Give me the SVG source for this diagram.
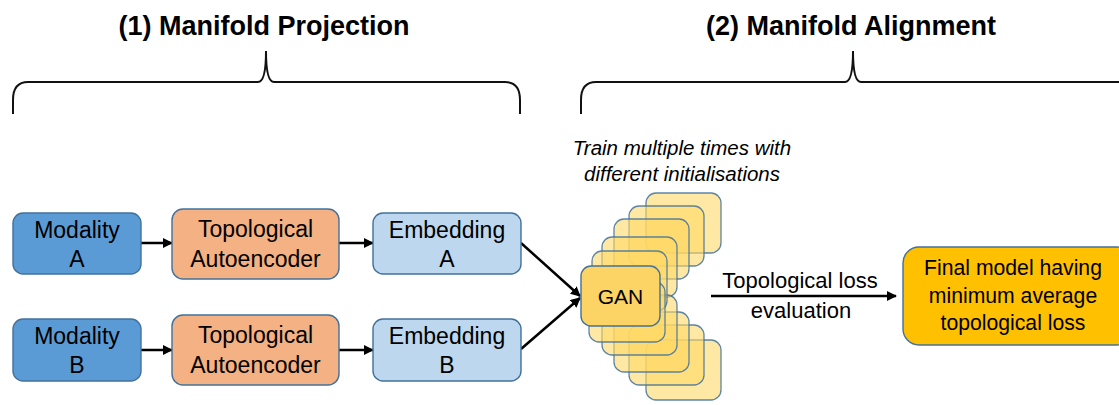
<svg xmlns="http://www.w3.org/2000/svg" width="1119" height="405" viewBox="0 0 1119 405">
<style>
text{font-family:"Liberation Sans",Arial,sans-serif;fill:#000;}
.title{font-size:27px;font-weight:bold;text-anchor:middle;}
.lbl{font-size:23px;text-anchor:middle;}
.box{stroke:#41719C;stroke-width:1.4;}
.mod{fill:#5B9BD5;}
.tae{fill:#F4B183;}
.emb{fill:#BDD7EE;}
.fin{fill:#FFC000;}
.stk{fill:#FFD966;fill-opacity:0.6;stroke:#41719C;stroke-opacity:0.85;stroke-width:1.3;}
.brace{fill:none;stroke:#111;stroke-width:2;}
.conn{stroke:#000;stroke-width:2.5;fill:none;marker-end:url(#ah);}
</style>
<defs>
<marker id="ah" viewBox="0 0 10 10" refX="9" refY="5" markerWidth="4" markerHeight="4" orient="auto" markerUnits="strokeWidth">
<path d="M0,0 L10,5 L0,10 z" fill="#000"/>
</marker>
</defs>
<rect width="1119" height="405" fill="#fff"/>

<g id="titles">
<text class="title" x="264" y="35">(1) Manifold Projection</text>
<text class="title" x="851" y="35">(2) Manifold Alignment</text>
</g>
<g id="braces">
<path class="brace" d="M13,114 L13,100 Q13,82 28,82 L258,82 Q266,82 266,51 Q266,82 274,82 L505,82 Q520,82 520,100 L520,114"/>
<path class="brace" d="M581,114 L581,100 Q581,82 596,82 L845,82 Q853,82 853,51 Q853,82 861,82 L1120,82"/>
</g>

<g id="connectors">
<line class="conn" x1="141" y1="243" x2="172" y2="243"/>
<line class="conn" x1="339" y1="243" x2="373" y2="243"/>
<line class="conn" x1="141" y1="350" x2="172" y2="350"/>
<line class="conn" x1="339" y1="350" x2="373" y2="350"/>
<line class="conn" x1="521" y1="243" x2="580" y2="296"/>
<line class="conn" x1="521" y1="349" x2="580" y2="298"/>
<line class="conn" x1="711" y1="296" x2="896" y2="296"/>
</g>

<g id="modalityA">
<rect class="box mod" x="13" y="213" width="128" height="61" rx="10"/>
<text class="lbl" x="77" y="238">Modality</text>
<text class="lbl" x="77" y="267">A</text>
</g>
<g id="autoencoderA">
<rect class="box tae" x="172" y="209" width="167" height="70" rx="11"/>
<text class="lbl" x="255.5" y="237">Topological</text>
<text class="lbl" x="255.5" y="267">Autoencoder</text>
</g>
<g id="embeddingA">
<rect class="box emb" x="373" y="213" width="148" height="61" rx="10"/>
<text class="lbl" x="447" y="238">Embedding</text>
<text class="lbl" x="447" y="267">A</text>
</g>
<g id="modalityB">
<rect class="box mod" x="13" y="319" width="128" height="62" rx="10"/>
<text class="lbl" x="77" y="344">Modality</text>
<text class="lbl" x="77" y="373">B</text>
</g>
<g id="autoencoderB">
<rect class="box tae" x="172" y="315" width="167" height="70" rx="11"/>
<text class="lbl" x="255.5" y="343">Topological</text>
<text class="lbl" x="255.5" y="373">Autoencoder</text>
</g>
<g id="embeddingB">
<rect class="box emb" x="373" y="319" width="148" height="62" rx="10"/>
<text class="lbl" x="447" y="344">Embedding</text>
<text class="lbl" x="447" y="373">B</text>
</g>

<g id="trainNote">
<text x="682" y="155" style="font-size:20.5px;font-style:italic;text-anchor:middle">Train multiple times with</text>
<text x="682" y="181" style="font-size:20.5px;font-style:italic;text-anchor:middle">different initialisations</text>
</g>

<g id="ganStack">
<rect class="stk" x="646" y="193" width="75" height="60" rx="10"/>
<rect class="stk" x="646" y="340" width="75" height="60" rx="10"/>
<rect class="stk" x="629" y="206" width="75" height="60" rx="10"/>
<rect class="stk" x="629" y="325" width="75" height="60" rx="10"/>
<rect class="stk" x="614" y="219" width="75" height="60" rx="10"/>
<rect class="stk" x="614" y="312" width="75" height="60" rx="10"/>
<rect class="stk" x="602" y="237" width="75" height="60" rx="10"/>
<rect class="stk" x="602" y="295" width="75" height="60" rx="10"/>
<rect class="stk" x="592" y="251" width="75" height="60" rx="10"/>
<rect class="stk" x="589" y="282" width="76" height="60" rx="10"/>
</g>
<g id="gan">
<rect class="box" x="581" y="266" width="79" height="60" rx="10" fill="#FCD466"/>
<text x="620.5" y="304" style="font-size:21px;text-anchor:middle">GAN</text>
</g>

<g id="lossLabel">
<text x="800" y="288" style="font-size:22px;text-anchor:middle">Topological loss</text>
<text x="801" y="318" style="font-size:22px;text-anchor:middle">evaluation</text>
</g>

<g id="finalModel">
<rect class="box fin" x="903" y="247" width="230" height="98" rx="16"/>
<text x="1013" y="275" style="font-size:21.2px;text-anchor:middle">Final model having</text>
<text x="1013" y="303" style="font-size:21.2px;text-anchor:middle">minimum average</text>
<text x="1013" y="330" style="font-size:21.2px;text-anchor:middle">topological loss</text>
</g>
</svg>
